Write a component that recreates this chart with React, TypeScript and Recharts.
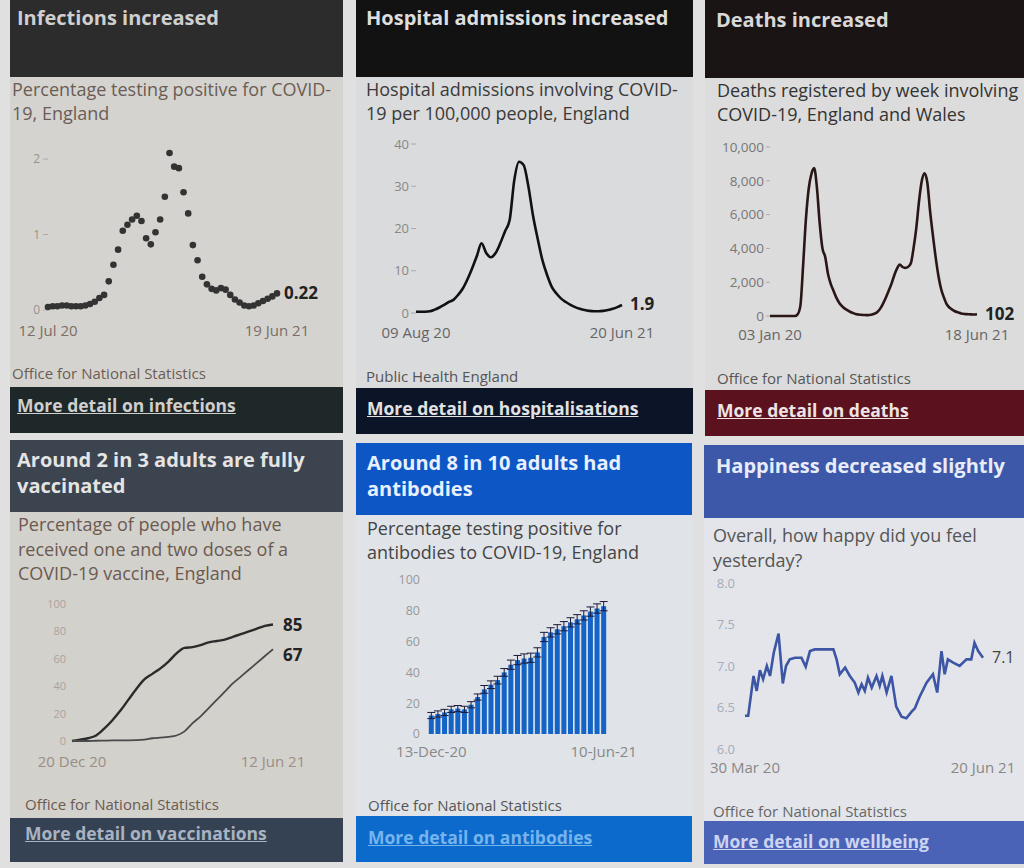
import React from "react";
import { LineChart, Line, XAxis, YAxis, BarChart, Bar, ErrorBar } from "recharts";

const FONT = '"Open Sans", "Noto Sans", sans-serif';

// infections: % testing positive, weekly 12 Jul 20 -> 19 Jun 21
const infections = [
  0.04, 0.05, 0.05, 0.06, 0.06, 0.05, 0.05, 0.05, 0.06, 0.08,
  0.11, 0.16, 0.2, 0.38, 0.6, 0.8, 1.05, 1.13, 1.2, 1.25,
  1.18, 0.95, 0.87, 1.03, 1.2, 1.5, 2.08, 1.9, 1.88, 1.56,
  1.28, 0.86, 0.66, 0.44, 0.34, 0.28, 0.26, 0.29, 0.27, 0.2,
  0.14, 0.1, 0.06, 0.05, 0.06, 0.09, 0.12, 0.15, 0.18, 0.22,
];

// hospital admissions per 100,000, 09 Aug 20 -> 20 Jun 21
const admissions = [
  0.3, 0.3, 0.3, 0.4, 0.8, 1.3, 1.9, 2.6, 3.1, 4.3,
  5.8, 8, 10.6, 13.5, 16.5, 14.2, 13.2, 14.2, 16.5, 19.3,
  22, 31.5, 35.8, 35, 30, 23, 17.5, 12.5, 9, 6.2,
  4.6, 3.4, 2.6, 1.9, 1.4, 1, 0.7, 0.5, 0.4, 0.4,
  0.5, 0.7, 1, 1.4, 1.9,
];

// weekly deaths involving COVID-19, 03 Jan 20 -> 18 Jun 21
const deaths = [
  0, 0, 0, 0, 0, 0, 0, 0, 0, 0, 100,
  600, 3000, 5700, 7500, 8400, 8750, 7600, 5500, 4000, 3500,
  2500, 1900, 1500, 1100, 800, 600, 450, 350, 250, 180,
  120, 90, 70, 60, 50, 60, 90, 150, 250, 450,
  750, 1100, 1500, 1900, 2400, 2800, 3050, 2900, 2850, 2900,
  3100, 4000, 5200, 6800, 8000, 8450, 7900, 6200, 4800, 3500,
  2400, 1600, 1100, 700, 500, 380, 280, 220, 170, 130,
  110, 100, 95, 90, 102,
];

// vaccinations, weekly 20 Dec 20 -> 12 Jun 21
const firstDose = [0, 1, 2, 4, 9, 15, 22, 30, 38, 45, 49, 53, 58, 64, 68, 68.5, 70, 72, 73, 74, 76, 78, 80, 82, 84, 85];
const secondDose = [0, 0, 0, 0.2, 0.3, 0.4, 0.5, 0.5, 0.6, 1, 2, 2.5, 3, 4, 7, 13, 18, 24, 30, 36, 42, 47, 52, 57, 62, 67];

// antibodies, 13-Dec-20 -> 10-Jun-21
const antibodies = [12, 13, 14, 16, 16.5, 16, 19, 24, 29, 32, 35, 40, 45, 48, 49, 49.5, 53, 63, 66, 68, 70, 72.5, 74.5, 77, 79.5, 81.5, 83];
const antibodyErr = [2, 2, 2, 2, 2, 2, 2, 2, 2.5, 2.5, 2.5, 2.5, 3, 3, 3, 3, 3, 3, 3, 3, 3, 3, 3, 3, 3, 3, 3];

// happiness, days since 30 Mar 20
const happyDays = [
  0, 6, 16, 22, 28, 34, 41, 47, 54, 63, 71, 77, 84, 94, 106, 114, 122, 131, 166, 172,
  178, 188, 197, 206, 213, 219, 225, 231, 238, 247, 253, 258, 266, 275, 284, 294, 303, 313, 319, 328,
  341, 353, 361, 369, 375, 381, 391, 403, 416, 425, 431, 438, 447,
];
const happiness = [
  6.4, 6.4, 6.88, 6.7, 6.95, 6.84, 7.0, 6.88, 7.16, 7.39, 6.79, 7.0, 7.08, 7.1, 7.1, 6.99, 7.18, 7.2, 7.2, 7.08,
  6.9, 6.98, 6.88, 6.8, 6.68, 6.78, 6.7, 6.86, 6.74, 6.88, 6.76, 6.88, 6.68, 6.88, 6.51, 6.39, 6.37, 6.45, 6.49, 6.63,
  6.8, 6.9, 6.68, 7.18, 6.9, 7.08, 7.04, 7.0, 7.08, 7.08, 7.28, 7.18, 7.1,
];

const infectionData = infections.map((v, i) => ({ i, v }));
const admissionData = admissions.map((v, i) => ({ i, v }));
const deathData = deaths.map((v, i) => ({ i, v }));
const vaccineData = firstDose.map((v, i) => ({ i, one: v, two: secondDose[i] }));
const antibodyData = antibodies.map((v, i) => ({ i, v, err: antibodyErr[i] }));
const happyData = happyDays.map((d, i) => ({ d, v: happiness[i] }));

const endLabel = (last: number, text: string, dx: number, dy: number, bold = true) => (p: any) =>
  p.index === last ? (
    <text x={p.x + dx} y={p.y + dy} fontSize={bold ? 17 : 16} fontWeight={bold ? 700 : 400} fill={bold ? "#222" : "#444"} fontFamily={FONT}>
      {text}
    </text>
  ) : (
    <g />
  );

const ends = (a: string, b: string, last: number) => (v: number) => (v === 0 ? a : v === last ? b : "");

function Box({ x, y, w, h, bg }: any) {
  return <div style={{ position: "absolute", left: x, top: y, width: w, height: h, background: bg }} />;
}

function Txt({ x, y, size, lh, color, weight = 400, underline = false, lines }: any) {
  return (
    <div
      style={{
        position: "absolute",
        left: x,
        top: y,
        fontFamily: FONT,
        fontSize: size,
        lineHeight: lh + "px",
        color,
        fontWeight: weight,
        whiteSpace: "nowrap",
        textDecoration: underline ? "underline" : "none",
      }}
    >
      {lines.map((l: string, k: number) => (
        <div key={k}>{l}</div>
      ))}
    </div>
  );
}

const yTick = (fill: string, size = 13) => ({ fontSize: size, fill, fontFamily: FONT });
const xTick = { fontSize: 15, fill: "#666", fontFamily: FONT };

const H = 20; // header font
const S = 18; // subtitle font
const F = 17.5; // footer link font
const SRC = 15; // source font

export default function App() {
  return (
    <div style={{ position: "absolute", left: 0, top: 0, width: 1024, height: 868, background: "#e0e0e0", overflow: "hidden" }}>
      {/* panel 1 */}
      <Box x={10} y={0} w={333} h={77} bg="#2c2c2c" />
      <Box x={10} y={77} w={333} h={310} bg="#d5d3cf" />
      <Box x={10} y={387} w={333} h={46} bg="#1f2828" />
      <Txt x={17} y={4} size={H} lh={28} weight={700} color="#cfcfcf" lines={["Infections increased"]} />
      <Txt x={12} y={77} size={S} lh={24} color="#6a5d55" lines={["Percentage testing positive for COVID-", "19, England"]} />
      <Txt x={12} y={364} size={SRC} lh={18} color="#6a5d55" lines={["Office for National Statistics"]} />
      <Txt x={17} y={394} size={F} lh={22} weight={700} underline color="#cfcfcf" lines={["More detail on infections"]} />
      <div style={{ position: "absolute", left: 10, top: 130 }}>
        <LineChart width={333} height={215} data={infectionData} margin={{ top: 14, right: 66, bottom: 5, left: 0 }}>
          <XAxis dataKey="i" type="number" domain={[0, 49]} ticks={[0, 49]} tickFormatter={ends("12 Jul 20", "19 Jun 21", 49)} axisLine={false} tickLine={false} tickSize={0} tickMargin={15} height={30} tick={{ ...xTick, fill: "#7a6e66" }} />
          <YAxis domain={[0, 2.2]} ticks={[0, 1, 2]} width={38} axisLine={false} tickSize={5} tickMargin={3} tickLine={{ stroke: "#b0aaa4" }} tick={yTick("#9a928a", 12)} />
          <Line dataKey="v" stroke="none" dot={{ r: 3.3, fill: "#333", stroke: "none" }} isAnimationActive={false} label={endLabel(49, "0.22", 7, 6)} />
        </LineChart>
      </div>

      {/* panel 2 */}
      <Box x={356} y={0} w={337} h={77} bg="#121212" />
      <Box x={356} y={77} w={337} h={311} bg="#dadbdd" />
      <Box x={356} y={388} w={337} h={46} bg="#0c1428" />
      <Txt x={366} y={4} size={H} lh={28} weight={700} color="#dedede" lines={["Hospital admissions increased"]} />
      <Txt x={366} y={77} size={S} lh={24} color="#3a3a3a" lines={["Hospital admissions involving COVID-", "19 per 100,000 people, England"]} />
      <Txt x={366} y={367} size={SRC} lh={18} color="#555" lines={["Public Health England"]} />
      <Txt x={367} y={397} size={F} lh={22} weight={700} underline color="#e2e2e2" lines={["More detail on hospitalisations"]} />
      <div style={{ position: "absolute", left: 356, top: 130 }}>
        <LineChart width={337} height={218} data={admissionData} margin={{ top: 14, right: 71, bottom: 5, left: 0 }}>
          <XAxis dataKey="i" type="number" domain={[0, 44]} ticks={[0, 44]} tickFormatter={ends("09 Aug 20", "20 Jun 21", 44)} axisLine={false} tickLine={false} tickSize={0} tickMargin={14} height={30} tick={xTick} />
          <YAxis domain={[0, 40]} ticks={[0, 10, 20, 30, 40]} width={60} axisLine={false} tickSize={5} tickMargin={2} tickLine={{ stroke: "#aaa" }} tick={yTick("#888")} />
          <Line dataKey="v" type="monotone" stroke="#111" strokeWidth={2.6} dot={false} isAnimationActive={false} label={endLabel(44, "1.9", 8, 5)} />
        </LineChart>
      </div>

      {/* panel 3 */}
      <Box x={705} y={0} w={319} h={78} bg="#1b1414" />
      <Box x={705} y={78} w={319} h={312} bg="#dcdcdc" />
      <Box x={705} y={390} w={319} h={46} bg="#5c111e" />
      <Txt x={716} y={6} size={H} lh={28} weight={700} color="#d8d8d8" lines={["Deaths increased"]} />
      <Txt x={717} y={78} size={S} lh={24} color="#333" lines={["Deaths registered by week involving", "COVID-19, England and Wales"]} />
      <Txt x={717} y={369} size={SRC} lh={18} color="#555" lines={["Office for National Statistics"]} />
      <Txt x={717} y={399} size={F} lh={22} weight={700} underline color="#eee4e4" lines={["More detail on deaths"]} />
      <div style={{ position: "absolute", left: 705, top: 130 }}>
        <LineChart width={319} height={221} data={deathData} margin={{ top: 17, right: 47, bottom: 5, left: 0 }}>
          <XAxis dataKey="i" type="number" domain={[0, 75]} ticks={[0, 75]} tickFormatter={ends("03 Jan 20", "18 Jun 21", 75)} axisLine={false} tickLine={false} tickSize={0} tickMargin={13} height={30} tick={xTick} />
          <YAxis domain={[0, 10000]} ticks={[0, 2000, 4000, 6000, 8000, 10000]} tickFormatter={(v: number) => v.toLocaleString("en-GB")} width={65} axisLine={false} tickSize={4} tickMargin={2} tickLine={{ stroke: "#aaa" }} tick={yTick("#777", 13.5)} />
          <Line dataKey="v" type="monotone" stroke="#2a1616" strokeWidth={2.6} dot={false} isAnimationActive={false} label={endLabel(75, "102", 8, 6)} />
        </LineChart>
      </div>

      {/* panel 4 */}
      <Box x={10} y={440} w={333} h={72} bg="#3c4450" />
      <Box x={10} y={512} w={333} h={306} bg="#d3d1cc" />
      <Box x={10} y={818} w={333} h={44} bg="#354253" />
      <Txt x={17} y={447} size={H} lh={26} weight={700} color="#e4e4e4" lines={["Around 2 in 3 adults are fully", "vaccinated"]} />
      <Txt x={18} y={512} size={S} lh={24.5} color="#6b5a50" lines={["Percentage of people who have", "received one and two doses of a", "COVID-19 vaccine, England"]} />
      <Txt x={25} y={795} size={SRC} lh={18} color="#6b5a50" lines={["Office for National Statistics"]} />
      <Txt x={25} y={822} size={F} lh={22} weight={700} underline color="#a9b3c2" lines={["More detail on vaccinations"]} />
      <div style={{ position: "absolute", left: 10, top: 590 }}>
        <LineChart width={333} height={186} data={vaccineData} margin={{ top: 14, right: 70, bottom: 5, left: 0 }}>
          <XAxis dataKey="i" type="number" domain={[0, 25]} ticks={[0, 25]} tickFormatter={ends("20 Dec 20", "12 Jun 21", 25)} axisLine={false} tickLine={false} tickSize={0} tickMargin={15} height={30} tick={{ ...xTick, fill: "#9a8e86" }} />
          <YAxis domain={[0, 100]} ticks={[0, 20, 40, 60, 80, 100]} width={62} axisLine={false} tickLine={false} tickSize={0} tickMargin={6} tick={yTick("#aaa39c", 11)} />
          <Line dataKey="one" type="monotone" stroke="#2b2b2b" strokeWidth={2.4} dot={false} isAnimationActive={false} label={endLabel(25, "85", 10, 6)} />
          <Line dataKey="two" type="monotone" stroke="#4a4a4a" strokeWidth={1.8} dot={false} isAnimationActive={false} label={endLabel(25, "67", 10, 12)} />
        </LineChart>
      </div>

      {/* panel 5 */}
      <Box x={356} y={443} w={336} h={72} bg="#0d56c6" />
      <Box x={356} y={515} w={336} h={301} bg="#e0e4e8" />
      <Box x={356} y={816} w={336} h={46} bg="#0b6acb" />
      <Txt x={367} y={450} size={H} lh={26} weight={700} color="#e8f0ff" lines={["Around 8 in 10 adults had", "antibodies"]} />
      <Txt x={367} y={516} size={S} lh={24} color="#444" lines={["Percentage testing positive for", "antibodies to COVID-19, England"]} />
      <Txt x={368} y={796} size={SRC} lh={18} color="#555" lines={["Office for National Statistics"]} />
      <Txt x={368} y={826} size={F} lh={22} weight={700} underline color="#76b4ee" lines={["More detail on antibodies"]} />
      <div style={{ position: "absolute", left: 356, top: 566 }}>
        <BarChart width={336} height={203} data={antibodyData} margin={{ top: 14, right: 85, bottom: 5, left: 0 }} barCategoryGap="12%">
          <XAxis dataKey="i" interval={0} tickFormatter={ends("13-Dec-20", "10-Jun-21", 26)} axisLine={false} tickLine={false} tickSize={0} tickMargin={12} height={30} tick={{ ...xTick, fill: "#888" }} />
          <YAxis domain={[0, 100]} ticks={[0, 20, 40, 60, 80, 100]} width={72} axisLine={false} tickLine={false} tickSize={0} tickMargin={8} tick={yTick("#999", 12.5)} />
          <Bar dataKey="v" fill="#1463c6" isAnimationActive={false}>
            <ErrorBar dataKey="err" width={4} strokeWidth={1} stroke="#1b1b3a" direction="y" />
          </Bar>
        </BarChart>
      </div>

      {/* panel 6 */}
      <Box x={704} y={445} w={320} h={73} bg="#3d58a8" />
      <Box x={704} y={518} w={320} h={303} bg="#e3e5ea" />
      <Box x={704} y={821} w={320} h={43} bg="#4a63b6" />
      <Txt x={716} y={452} size={H} lh={28} weight={700} color="#e8ecf8" lines={["Happiness decreased slightly"]} />
      <Txt x={713} y={523} size={S} lh={24.5} color="#555" lines={["Overall, how happy did you feel", "yesterday?"]} />
      <Txt x={713} y={802} size={SRC} lh={18} color="#666" lines={["Office for National Statistics"]} />
      <Txt x={713} y={830} size={F} lh={22} weight={700} underline color="#cdd4f2" lines={["More detail on wellbeing"]} />
      <div style={{ position: "absolute", left: 704, top: 569 }}>
        <LineChart width={320} height={215} data={happyData} margin={{ top: 14, right: 41, bottom: 5, left: 0 }}>
          <XAxis dataKey="d" type="number" domain={[0, 447]} ticks={[0, 447]} tickFormatter={ends("30 Mar 20", "20 Jun 21", 447)} axisLine={false} tickLine={false} tickSize={0} tickMargin={13} height={30} tick={{ ...xTick, fill: "#888" }} />
          <YAxis domain={[6, 8]} ticks={[6, 6.5, 7, 7.5, 8]} tickFormatter={(v: number) => v.toFixed(1)} width={41} axisLine={false} tickLine={false} tickSize={0} tickMargin={10} tick={yTick("#a8acb8")} />
          <Line dataKey="v" stroke="#3c55a5" strokeWidth={2.6} dot={false} isAnimationActive={false} label={endLabel(52, "7.1", 9, 5, false)} />
        </LineChart>
      </div>
    </div>
  );
}
